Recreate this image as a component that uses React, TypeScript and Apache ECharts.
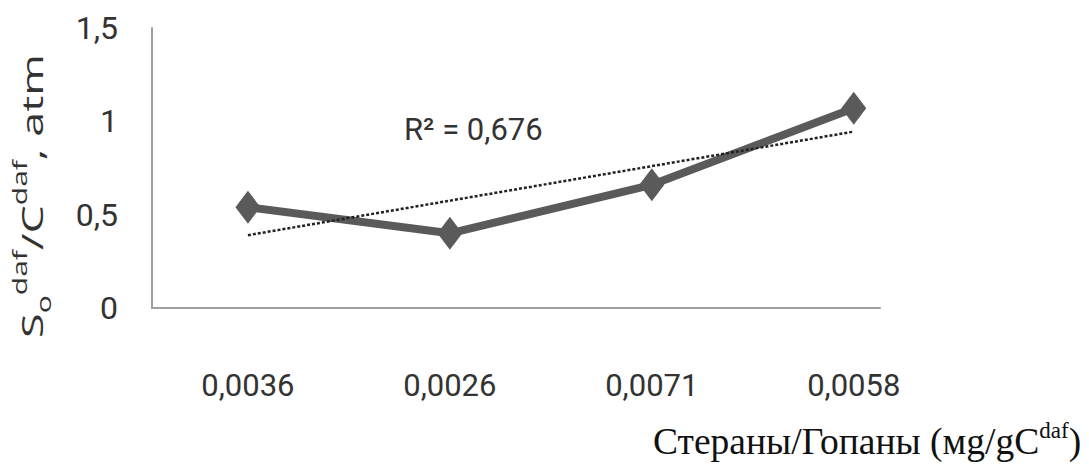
import React, { useEffect, useRef } from "react";
import * as echarts from "echarts";

const categories = ["0,0036", "0,0026", "0,0071", "0,0058"];
const values = [0.54, 0.4, 0.66, 1.07];
const yMin = 0;
const yMax = 1.5;
const yStep = 0.5;
const r2Text = "R² = 0,676";
const xTitleMain = "Стераны/Гопаны (мg/gC";
const xTitleSup = "daf";

function regression(ys: number[]) {
  const n = ys.length;
  const xs = ys.map((_, i) => i);
  const mx = xs.reduce((a, b) => a + b, 0) / n;
  const my = ys.reduce((a, b) => a + b, 0) / n;
  let sxy = 0;
  let sxx = 0;
  xs.forEach((x, i) => {
    sxy += (x - mx) * (ys[i] - my);
    sxx += (x - mx) * (x - mx);
  });
  const b = sxy / sxx;
  const a = my - b * mx;
  return { a, b };
}

export default function App() {
  const ref = useRef<HTMLDivElement>(null);
  useEffect(() => {
    if (!ref.current) return;
    const chart = echarts.init(ref.current, null, { renderer: "svg" });
    const { a, b } = regression(values);
    const last = values.length - 1;
    const lab = "Roboto, 'Liberation Sans', sans-serif";
    chart.setOption({
      animation: false,
      backgroundColor: "#ffffff",
      grid: { left: 152, top: 28, width: 728, height: 280, containLabel: false },
      xAxis: {
        type: "value",
        min: -0.475,
        max: 3.13,
        axisLine: { show: true, onZero: false, lineStyle: { color: "#a0a0a0", width: 2 } },
        axisTick: { show: false },
        splitLine: { show: false },
        axisLabel: {
          customValues: categories.map((_, i) => i),
          formatter: (v: number) => categories[Math.round(v)] ?? "",
          margin: 62,
          fontFamily: lab,
          fontSize: 31,
          color: "#333333",
        },
      },
      yAxis: {
        type: "value",
        min: yMin,
        max: yMax,
        interval: yStep,
        axisLine: { show: true, onZero: false, lineStyle: { color: "#a0a0a0", width: 2 } },
        axisTick: { show: false },
        splitLine: { show: false },
        axisLabel: {
          formatter: (v: number) => String(v).replace(".", ","),
          margin: 34,
          fontFamily: lab,
          fontSize: 32,
          color: "#333333",
        },
      },
      series: [
        {
          type: "line",
          data: values.map((v, i) => [i, v]),
          lineStyle: { color: "#5a5a5a", width: 8 },
          itemStyle: { color: "#5a5a5a" },
          symbol: "diamond",
          symbolSize: [25, 33],
          z: 3,
        },
        {
          type: "line",
          data: [
            [0, a],
            [last, a + b * last],
          ],
          symbol: "none",
          lineStyle: { color: "#222222", width: 2.5, type: [3, 2] },
          z: 4,
        },
      ],
      graphic: [
        {
          type: "text",
          left: 404,
          top: 114,
          style: {
            text: r2Text,
            font: "31px Roboto, 'Liberation Sans', sans-serif",
            fill: "#333333",
          },
        },
        {
          type: "text",
          x: 31,
          y: 196,
          rotation: Math.PI / 2,
          scaleX: 1.5,
          style: {
            text: "{m|S}{sub|o}{sup|daf}{m|/C}{sup|daf}{m|, atm}",
            align: "center",
            verticalAlign: "middle",
            fill: "#333333",
            rich: {
              m: { fontFamily: "'Open Sans', sans-serif", fontSize: 30, lineHeight: 44, fill: "#333333" },
              sub: { fontFamily: "'Open Sans', sans-serif", fontSize: 20, lineHeight: 34, verticalAlign: "bottom", fill: "#333333" },
              sup: { fontFamily: "'Open Sans', sans-serif", fontSize: 20, lineHeight: 20, verticalAlign: "top", fill: "#333333" },
            },
          },
        },
        {
          type: "text",
          x: 653,
          y: 441,
          style: {
            text: "{m|" + xTitleMain + "}{s|" + xTitleSup + "}{m|)}",
            align: "left",
            verticalAlign: "middle",
            fill: "#111111",
            rich: {
              m: { fontFamily: "'Liberation Serif', 'Times New Roman', serif", fontSize: 37.5, lineHeight: 44, fill: "#111111" },
              s: { fontFamily: "'Liberation Serif', 'Times New Roman', serif", fontSize: 23, lineHeight: 22, verticalAlign: "top", fill: "#111111" },
            },
          },
        },
      ],
    });
    return () => chart.dispose();
  }, []);
  return (
    <div
      ref={ref}
      style={{ position: "absolute", left: 0, top: 0, width: 1089, height: 468 }}
    />
  );
}
